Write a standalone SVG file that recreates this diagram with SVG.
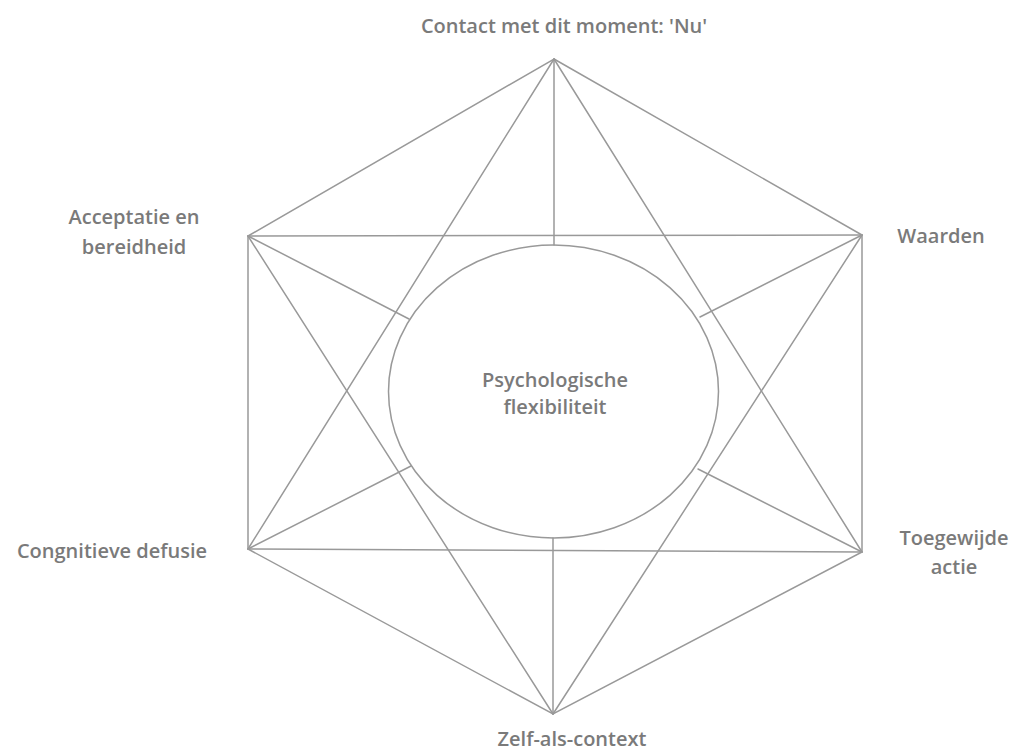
<svg xmlns="http://www.w3.org/2000/svg" width="1013" height="754" viewBox="0 0 1013 754">
<style>
.ln{stroke:#999;stroke-width:1.5;fill:none;stroke-linecap:round}
.t{font-family:"Open Sans","Noto Sans",sans-serif;font-size:20px;font-weight:600;fill:#7a7a7a;text-anchor:middle}
</style>
<rect width="1013" height="754" fill="#fff"/>
<g id="connectors">
<polygon class="ln" points="554,59 862,235 862,552 553,714 248,549 248,236"/>
<line class="ln" x1="248" y1="236" x2="862" y2="235"/>
<line class="ln" x1="248" y1="549" x2="862" y2="552"/>
<line class="ln" x1="554" y1="59" x2="248" y2="549"/>
<line class="ln" x1="554" y1="59" x2="862" y2="552"/>
<line class="ln" x1="248" y1="236" x2="553" y2="714"/>
<line class="ln" x1="862" y1="235" x2="553" y2="714"/>
<line class="ln" x1="554" y1="59" x2="554" y2="245"/>
<line class="ln" x1="553" y1="714" x2="553" y2="538"/>
<line class="ln" x1="248" y1="236" x2="409" y2="319"/>
<line class="ln" x1="862" y1="235" x2="700" y2="317"/>
<line class="ln" x1="248" y1="549" x2="411" y2="466"/>
<line class="ln" x1="862" y1="552" x2="698" y2="469"/>
</g>
<g id="center">
<ellipse class="ln" cx="553.5" cy="391.5" rx="165" ry="146.5" fill="#fff"/>
<text class="t" x="555" y="387">Psychologische</text>
<text class="t" x="555" y="414">flexibiliteit</text>
</g>
<g id="nu"><text class="t" x="564" y="33">Contact met dit moment: 'Nu'</text></g>
<g id="acceptatie"><text class="t" x="134" y="224">Acceptatie en</text><text class="t" x="134" y="254">bereidheid</text></g>
<g id="waarden"><text class="t" x="941" y="243">Waarden</text></g>
<g id="defusie"><text class="t" x="112" y="558">Congnitieve defusie</text></g>
<g id="actie"><text class="t" x="954" y="545">Toegewijde</text><text class="t" x="954" y="574">actie</text></g>
<g id="zelf"><text class="t" x="572" y="746">Zelf-als-context</text></g>
</svg>
